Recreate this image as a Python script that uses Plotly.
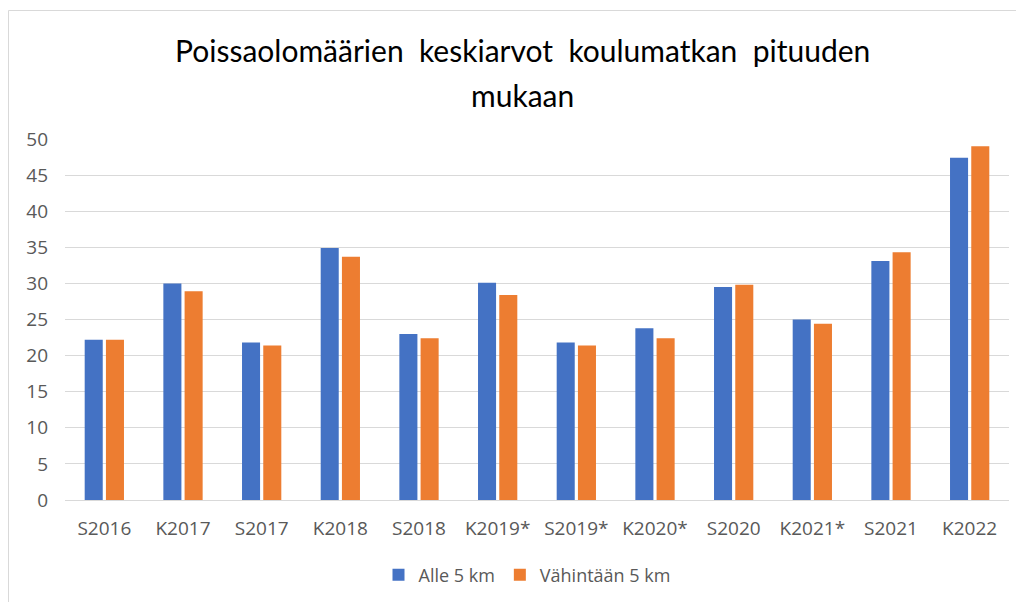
import plotly.graph_objects as go

categories = ["S2016", "K2017", "S2017", "K2018", "S2018", "K2019*", "S2019*",
              "K2020*", "S2020", "K2021*", "S2021", "K2022"]
alle_5km = [22.2, 30.0, 21.8, 34.9, 23.0, 30.1, 21.8, 23.8, 29.5, 25.0, 33.1, 47.4]
vahintaan_5km = [22.2, 28.9, 21.4, 33.7, 22.4, 28.4, 21.4, 22.4, 29.8, 24.4, 34.3, 49.0]
y_ticks = [0, 5, 10, 15, 20, 25, 30, 35, 40, 45, 50]

title_line1 = "Poissaolomäärien  keskiarvot  koulumatkan  pituuden"
title_line2 = "mukaan"

BLUE = "#4472C4"
ORANGE = "#ED7D31"
TICK_FONT = dict(family="Open Sans", size=19, color="#595959")

# page body has an 8px offset; figure coordinates below account for it
W, H = 1024, 602
L, R, T, B = 57, 23, 131, 110
PW = W - L - R
PH = H - T - B


def py(pix):
    return (H - B - pix) / PH


def px(pix):
    return (pix - L) / PW


fig = go.Figure()
fig.add_trace(go.Bar(name="Alle 5 km", x=categories, y=alle_5km,
                     marker=dict(color=BLUE, line=dict(width=0))))
fig.add_trace(go.Bar(name="Vähintään 5 km", x=categories, y=vahintaan_5km,
                     marker=dict(color=ORANGE, line=dict(width=0))))

fig.update_layout(
    width=W, height=H,
    paper_bgcolor="white", plot_bgcolor="white",
    margin=dict(l=L, r=R, t=T, b=B, autoexpand=False),
    barmode="group", bargap=0.46, bargroupgap=0.15,
    showlegend=True,
    legend=dict(orientation="h", x=px(519), xanchor="center", yref="container",
                y=1 - 567 / H, yanchor="middle",
                font=dict(family="Open Sans", size=18, color="#595959"),
                traceorder="normal"),
    xaxis=dict(showgrid=False, showline=True, linecolor="#D9D9D9", linewidth=1,
               tickfont=TICK_FONT, ticks="", ticklabelstandoff=11, fixedrange=True),
    yaxis=dict(range=[0, 50], tickvals=y_ticks, showgrid=True, gridcolor="#D9D9D9",
               gridwidth=1, zeroline=False, showline=False, tickfont=TICK_FONT,
               ticks="", ticklabelstandoff=16, fixedrange=True),
    annotations=[
        dict(text=title_line1, xref="paper", yref="paper", x=px(514), y=py(42),
             xanchor="center", yanchor="middle", showarrow=False,
             font=dict(family="Lato", size=30, color="#000000")),
        dict(text=title_line2, xref="paper", yref="paper", x=px(514), y=py(87),
             xanchor="center", yanchor="middle", showarrow=False,
             font=dict(family="Lato", size=30, color="#000000")),
    ],
    shapes=[dict(type="rect", xref="paper", yref="paper",
                 x0=px(0.5), x1=px(W + 20),
                 y0=py(H + 40), y1=py(2.5),
                 line=dict(color="#D9D9D9", width=1), fillcolor="rgba(0,0,0,0)", layer="below")],
)

fig.write_html("out.html")
